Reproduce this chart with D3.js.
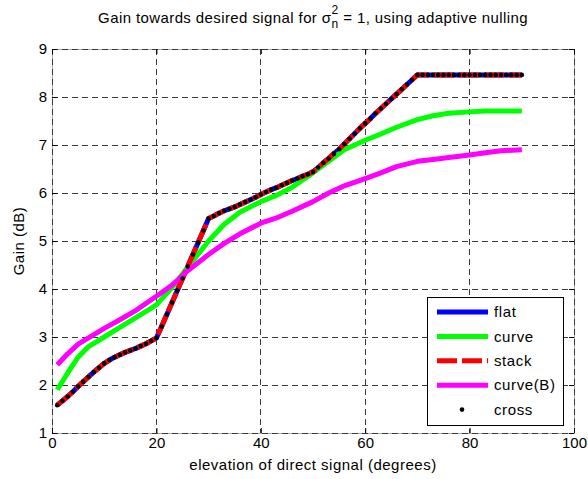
<!DOCTYPE html>
<html>
<head>
<meta charset="utf-8">
<script src="https://cdn.jsdelivr.net/npm/d3@7"></script>
<style>
  body { margin: 0; background: #fff; }
  svg text { font-family: "Liberation Sans", Arial, sans-serif; fill: #000; }
</style>
</head>
<body>
<script>
// elevation of direct signal (degrees), one point per degree
var elevation = [1, 2, 3, 4, 5, 6, 7, 8, 9, 10, 11, 12, 13, 14, 15, 16, 17, 18, 19, 20,
    21, 22, 23, 24, 25, 26, 27, 28, 29, 30, 31, 32, 33, 34, 35, 36, 37, 38, 39, 40,
    41, 42, 43, 44, 45, 46, 47, 48, 49, 50, 51, 52, 53, 54, 55, 56, 57, 58, 59, 60,
    61, 62, 63, 64, 65, 66, 67, 68, 69, 70, 71, 72, 73, 74, 75, 76, 77, 78, 79, 80,
    81, 82, 83, 84, 85, 86, 87, 88, 89, 90];

// flat / stack / cross all lie on top of each other in the figure
var gainFlat = [1.58, 1.67, 1.76, 1.86, 1.97, 2.07, 2.17, 2.27, 2.36, 2.45,
    2.52, 2.58, 2.63, 2.68, 2.72, 2.76, 2.81, 2.86, 2.92, 2.98,
    3.22, 3.47, 3.72, 3.97, 4.22, 4.47, 4.72, 4.97, 5.22, 5.47,
    5.52, 5.58, 5.63, 5.67, 5.71, 5.76, 5.81, 5.86, 5.91, 5.97,
    6.02, 6.07, 6.11, 6.16, 6.21, 6.26, 6.30, 6.35, 6.39, 6.44,
    6.53, 6.63, 6.72, 6.82, 6.91, 7.02, 7.13, 7.24, 7.35, 7.45,
    7.55, 7.66, 7.76, 7.86, 7.96, 8.06, 8.16, 8.26, 8.36, 8.46,
    8.46, 8.46, 8.46, 8.46, 8.46, 8.46, 8.46, 8.46, 8.46, 8.46,
    8.46, 8.46, 8.46, 8.46, 8.46, 8.46, 8.46, 8.46, 8.46, 8.46];
var gainStack = gainFlat;
var gainCross = gainFlat;

// curve and curve(B) read at fewer elevations
var elevationCurve = [1, 3, 5, 7, 10, 13, 16, 20, 23, 26, 30, 33, 36, 40, 43, 46, 50,
    53, 56, 60, 63, 66, 70, 73, 76, 80, 83, 86, 90];
var gainCurve = [1.90, 2.25, 2.58, 2.80, 3.00, 3.20, 3.40, 3.67, 4.03, 4.45, 5.00, 5.35,
    5.60, 5.82, 5.95, 6.12, 6.42, 6.66, 6.90, 7.10, 7.23, 7.37, 7.53, 7.61, 7.66,
    7.69, 7.71, 7.71, 7.71];
var gainCurveB = [2.42, 2.65, 2.85, 2.98, 3.18, 3.36, 3.55, 3.85, 4.08, 4.38, 4.72, 4.95,
    5.15, 5.37, 5.48, 5.62, 5.82, 6.00, 6.15, 6.30, 6.42, 6.55, 6.66, 6.70, 6.74,
    6.79, 6.84, 6.88, 6.90];

var xTicks = [0, 20, 40, 60, 80, 100];
var yTicks = [1, 2, 3, 4, 5, 6, 7, 8, 9];
var legendNames = ["flat", "curve", "stack", "curve(B)", "cross"];

var margin = { top: 49, right: 14, bottom: 46, left: 52 },
    width = 588 - margin.left - margin.right,
    height = 479 - margin.top - margin.bottom;

var svg = d3.select("body").append("svg")
    .attr("width", 588)
    .attr("height", 479);

svg.append("rect").attr("width", 588).attr("height", 479).attr("fill", "#fff");

var g = svg.append("g")
    .attr("transform", "translate(" + margin.left + "," + margin.top + ")");

var x = d3.scaleLinear().domain([0, 100]).range([0, width]);
var y = d3.scaleLinear().domain([1, 9]).range([height, 0]);

// axes box
g.append("rect")
    .attr("width", width)
    .attr("height", height)
    .attr("fill", "none")
    .attr("stroke", "#a8a8a8")
    .attr("shape-rendering", "crispEdges");

// dashed grid
var grid = g.append("g")
    .attr("stroke", "#3a3a3a")
    .attr("stroke-dasharray", "6,4")
    .attr("shape-rendering", "crispEdges");

grid.selectAll(".vg").data(xTicks).enter().append("line")
    .attr("x1", function (d) { return x(d); })
    .attr("x2", function (d) { return x(d); })
    .attr("y1", 0)
    .attr("y2", height);

grid.selectAll(".hg").data(yTicks).enter().append("line")
    .attr("x1", 0)
    .attr("x2", width)
    .attr("y1", function (d) { return y(d); })
    .attr("y2", function (d) { return y(d); });

function styleAxis(sel) {
    sel.select(".domain").remove();
    sel.selectAll(".tick line").attr("stroke", "#000");
    sel.selectAll("text").attr("font-size", 15).attr("fill", "#000");
}

g.append("g")
    .attr("transform", "translate(0," + height + ")")
    .call(d3.axisBottom(x).tickValues(xTicks).tickSizeInner(-5).tickSizeOuter(0).tickPadding(4))
    .call(styleAxis);

g.append("g")
    .call(d3.axisLeft(y).tickValues(yTicks).tickSizeInner(-5).tickSizeOuter(0).tickPadding(5))
    .call(styleAxis);

g.append("g")
    .call(d3.axisTop(x).tickValues(xTicks).tickSizeInner(-5).tickSizeOuter(0).tickFormat(""))
    .call(styleAxis);

g.append("g")
    .attr("transform", "translate(" + width + ",0)")
    .call(d3.axisRight(y).tickValues(yTicks).tickSizeInner(-5).tickSizeOuter(0).tickFormat(""))
    .call(styleAxis);

// series
function lineFor(xs) {
    return d3.line()
        .x(function (d, i) { return x(xs[i]); })
        .y(function (d) { return y(d); });
}

var plot = g.append("g").attr("fill", "none").attr("stroke-linejoin", "round");

plot.append("path").datum(gainFlat)
    .attr("stroke", "#0000ff").attr("stroke-width", 5)
    .attr("d", lineFor(elevation));

plot.append("path").datum(gainCurve)
    .attr("stroke", "#00ff00").attr("stroke-width", 5)
    .attr("d", lineFor(elevationCurve));

plot.append("path").datum(gainStack)
    .attr("stroke", "#ff0000").attr("stroke-width", 5)
    .attr("stroke-dasharray", "20,5")
    .attr("d", lineFor(elevation));

plot.append("path").datum(gainCurveB)
    .attr("stroke", "#ff00ff").attr("stroke-width", 5)
    .attr("d", lineFor(elevationCurve));

g.append("g").selectAll("circle").data(gainCross).enter().append("circle")
    .attr("cx", function (d, i) { return x(elevation[i]); })
    .attr("cy", function (d) { return y(d); })
    .attr("r", 2.3)
    .attr("fill", "#000");

// legend
var legend = svg.append("g").attr("transform", "translate(427,297)");
legend.append("rect")
    .attr("width", 136)
    .attr("height", 128)
    .attr("fill", "#fff")
    .attr("stroke", "#000")
    .attr("shape-rendering", "crispEdges");

var legendStyle = [
    { stroke: "#0000ff", dash: null },
    { stroke: "#00ff00", dash: null },
    { stroke: "#ff0000", dash: "20,5" },
    { stroke: "#ff00ff", dash: null },
    { stroke: null, dash: null }
];

var rows = legend.selectAll(".row").data(legendNames).enter().append("g")
    .attr("transform", function (d, i) { return "translate(0," + (15 + i * 24.4) + ")"; });

rows.each(function (d, i) {
    var row = d3.select(this);
    var s = legendStyle[i];
    if (s.stroke) {
        row.append("line")
            .attr("x1", 10).attr("x2", 61)
            .attr("stroke", s.stroke)
            .attr("stroke-width", 5)
            .attr("stroke-dasharray", s.dash);
    } else {
        row.append("circle").attr("cx", 35).attr("r", 2.3).attr("fill", "#000");
    }
    row.append("text")
        .attr("x", 67)
        .attr("dy", "0.35em")
        .attr("font-size", 15)
        .attr("letter-spacing", 0.6)
        .text(d);
});

// labels
svg.append("text")
    .attr("x", margin.left + width / 2)
    .attr("y", 470)
    .attr("text-anchor", "middle")
    .attr("font-size", 15)
    .attr("letter-spacing", 0.5)
    .text("elevation of direct signal (degrees)");

svg.append("text")
    .attr("transform", "translate(24," + (margin.top + height / 2) + ") rotate(-90)")
    .attr("text-anchor", "middle")
    .attr("font-size", 15)
    .attr("letter-spacing", 0.5)
    .text("Gain (dB)");

var title = svg.append("text")
    .attr("x", 313)
    .attr("y", 23)
    .attr("text-anchor", "middle")
    .attr("font-size", 15)
    .attr("letter-spacing", 0.4);
title.append("tspan").text("Gain towards desired signal for \u03c3");
title.append("tspan").attr("font-size", 12).attr("dy", 5).text("n");
title.append("tspan").attr("font-size", 12).attr("dx", -7).attr("dy", -14).text("2");
title.append("tspan").attr("dy", 9).text(" = 1, using adaptive nulling");
</script>
</body>
</html>
